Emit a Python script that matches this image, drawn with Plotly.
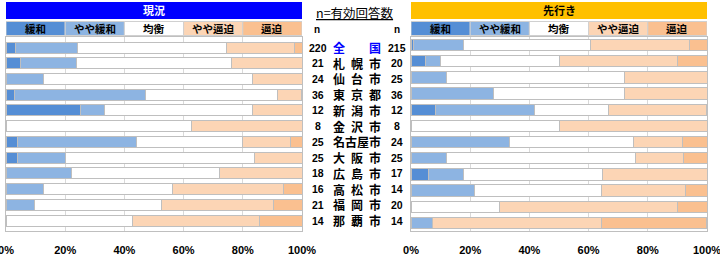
import plotly.graph_objects as go
from plotly.subplots import make_subplots

areas = ["全国", "札幌市", "仙台市", "東京都", "新潟市", "金沢市", "名古屋市",
         "大阪市", "広島市", "高松市", "福岡市", "那覇市"]
n_now = [220, 21, 24, 36, 12, 8, 25, 25, 18, 16, 21, 14]
n_fut = [215, 20, 25, 36, 12, 8, 24, 25, 17, 14, 20, 14]

categories = ["緩和", "やや緩和", "均衡", "やや逼迫", "逼迫"]
colors = ["#558ED5", "#8DB4E2", "#FFFFFF", "#FCD5B5", "#FAC090"]

# 現況 (%)
now_kanwa = [3.2, 4.8, 0, 2.8, 25.0, 0, 4.0, 4.0, 0, 0, 0, 0]
now_yaya_kanwa = [20.9, 19.0, 12.5, 44.4, 8.3, 0, 40.0, 16.0, 22.2, 12.5, 9.5, 0]
now_kinkou = [50.5, 52.4, 70.8, 44.4, 50.0, 62.5, 36.0, 64.0, 50.0, 43.8, 42.9, 42.9]
now_yaya_hippaku = [22.7, 23.8, 16.7, 8.3, 16.7, 37.5, 16.0, 16.0, 27.8, 37.5, 38.1, 42.9]
now_hippaku = [2.7, 0, 0, 0, 0, 0, 4.0, 0, 0, 6.2, 9.5, 14.3]

# 先行き (%)
fut_kanwa = [0.9, 5.0, 0, 0, 8.3, 0, 0, 0, 5.9, 0, 0, 0]
fut_yaya_kanwa = [16.7, 5.0, 12.0, 27.8, 33.3, 0, 33.3, 12.0, 11.8, 21.4, 0, 7.1]
fut_kinkou = [43.0, 40.0, 60.0, 44.4, 25.0, 50.0, 41.7, 64.0, 47.1, 42.9, 30.0, 0]
fut_yaya_hippaku = [33.5, 40.0, 28.0, 27.8, 33.3, 50.0, 16.7, 16.0, 35.3, 28.6, 60.0, 57.1]
fut_hippaku = [5.9, 10.0, 0, 0, 0, 0, 8.3, 8.0, 0, 7.1, 10.0, 35.7]

x_ticks = [0, 20, 40, 60, 80, 100]
x_ticktext = ["0%", "20%", "40%", "60%", "80%", "100%"]

now_series = [now_kanwa, now_yaya_kanwa, now_kinkou, now_yaya_hippaku, now_hippaku]
fut_series = [fut_kanwa, fut_yaya_kanwa, fut_kinkou, fut_yaya_hippaku, fut_hippaku]

W, H = 720, 255
def px(v): return v / W
def py(v): return 1 - v / H

JP = "Noto Sans CJK JP"
AR = "Arial, Liberation Sans"

fig = make_subplots(rows=1, cols=2)

for col, series in ((1, now_series), (2, fut_series)):
    for name, vals, c in zip(categories, series, colors):
        fig.add_trace(go.Bar(
            y=areas, x=vals, orientation="h", name=name, width=0.7,
            marker=dict(color=c, line=dict(color="#BFBFBF", width=1)),
            showlegend=False, hoverinfo="x+y+name"), row=1, col=col)

ydom = [py(231), py(37)]
axis_common = dict(range=[0, 100], tickvals=x_ticks, ticktext=x_ticktext,
                   showgrid=True, gridcolor="#D9D9D9", gridwidth=1, automargin=False,
                   ticklabeloverflow="allow",
                   zeroline=False, showline=True, mirror=True, linecolor="#BFBFBF",
                   ticks="outside", ticklen=9, tickcolor="rgba(0,0,0,0)",
                   tickfont=dict(family=AR, size=11, color="#000", weight="bold"),
                   fixedrange=True)
yaxis_common = dict(domain=ydom, autorange="reversed", showticklabels=False, automargin=False,
                    showline=True, mirror=True, linecolor="#BFBFBF", showgrid=False,
                    fixedrange=True)
fig.update_layout(
    xaxis=dict(domain=[px(6), px(302)], **axis_common),
    xaxis2=dict(domain=[px(411), px(707)], **axis_common),
    yaxis=yaxis_common,
    yaxis2=yaxis_common,
    barmode="stack", bargap=0.3,
    width=W, height=H, margin=dict(l=0, r=0, t=0, b=0, autoexpand=False),
    paper_bgcolor="white", plot_bgcolor="white",
)

shapes = []
annotations = []

def ann(**kw):
    kw.setdefault("showarrow", False)
    kw.setdefault("xanchor", "center")
    kw.setdefault("yanchor", "middle")
    annotations.append(kw)

# headers
for xr, title, bg, fg in (("x", "現況", "#0000FF", "#FFFFFF"),
                          ("x2", "先行き", "#FFC000", "#000000")):
    shapes.append(dict(type="rect", xref=xr, yref="paper", x0=-0.3, x1=100.5,
                       y0=py(19), y1=py(2), fillcolor=bg, line=dict(width=0), layer="above"))
    ann(xref=xr, yref="paper", x=50, y=py(10.5), text="<b>%s</b>" % title,
        font=dict(family=JP, size=11, color=fg))
    for i, (cat, c) in enumerate(zip(categories, colors)):
        shapes.append(dict(type="rect", xref=xr, yref="paper", x0=i * 20, x1=(i + 1) * 20,
                           y0=py(35.5), y1=py(21.5), fillcolor=c,
                           line=dict(color="#D0D0D0", width=1), layer="above"))
        ann(xref=xr, yref="paper", x=i * 20 + 10, y=py(28.5),
            text="<b>%s</b>" % cat, font=dict(family=JP, size=10.5, color="#000"))

# center labels
ann(xref="paper", yref="paper", x=px(355), y=py(12.5),
    text="<u>n=有効回答数</u>", font=dict(family=JP, size=12.5, color="#000"))
for xx in (317, 397):
    ann(xref="paper", yref="paper", x=px(xx), y=py(29),
        text="<b>n</b>", font=dict(family=AR, size=10, color="#000"))
for i, a in enumerate(areas):
    ann(xref="paper", yref="y", x=px(317.5), y=a, text="<b>%d</b>" % n_now[i],
        font=dict(family=AR, size=10.5, color="#000"))
    ann(xref="paper", yref="y", x=px(397), y=a, text="<b>%d</b>" % n_fut[i],
        font=dict(family=AR, size=10.5, color="#000"))
    col = "#0000FF" if i == 0 else "#000000"
    if len(a) == 4:
        ann(xref="paper", yref="y", x=px(357), y=a, text="<b>%s</b>" % a,
            font=dict(family=JP, size=12, color=col))
    else:
        offs = [-18, 0, 18] if len(a) == 3 else [-18, 18]
        for ch, o in zip(a, offs):
            ann(xref="paper", yref="y", x=px(357 + o), y=a,
                text="<b>%s</b>" % ch, font=dict(family=JP, size=12, color=col))

fig.update_layout(shapes=shapes, annotations=annotations)
fig.write_html("out.html")
